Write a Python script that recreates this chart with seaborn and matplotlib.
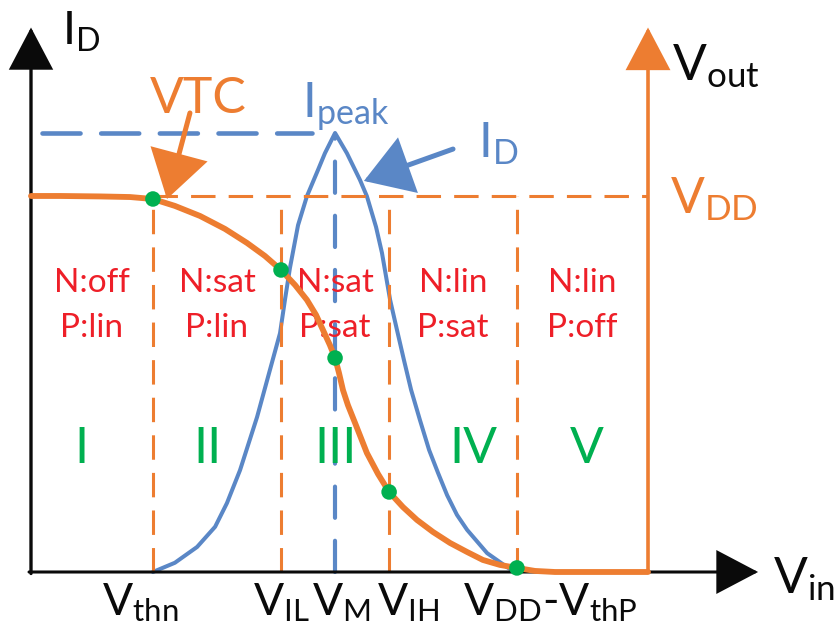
import numpy as np
import pandas as pd
import matplotlib
matplotlib.use("Agg")
import matplotlib.pyplot as plt
import seaborn as sns

# ---- supply and characteristic input voltages (V) ----
VDD = 2.5
v_thn = 0.494
v_il = 1.013
v_m = 1.232
v_ih = 1.451
v_dd_thp = 1.969

# ---- CMOS inverter voltage transfer characteristic ----
vtc_vin = [0.000, 0.118, 0.280, 0.401, 0.494, 0.583, 0.685, 0.786, 0.875, 0.948,
           1.013, 1.070, 1.118, 1.155, 1.183, 1.211, 1.232, 1.248, 1.264, 1.284,
           1.313, 1.337, 1.361, 1.406, 1.451, 1.507, 1.564, 1.629, 1.698, 1.767,
           1.831, 1.900, 1.969, 2.042, 2.123, 2.500]
vtc_vout = [2.500, 2.500, 2.497, 2.493, 2.480, 2.434, 2.367, 2.281, 2.188, 2.101,
            2.008, 1.908, 1.809, 1.709, 1.609, 1.509, 1.423, 1.323, 1.210, 1.110,
            0.991, 0.891, 0.791, 0.652, 0.532, 0.432, 0.346, 0.266, 0.193, 0.133,
            0.080, 0.047, 0.027, 0.007, 0.000, 0.000]

# ---- drain current through the inverter, normalised to I_peak ----
id_vin = [0.494, 0.583, 0.673, 0.746, 0.794, 0.847, 0.916, 0.968, 1.009, 1.029,
          1.049, 1.082, 1.118, 1.163, 1.191, 1.232, 1.280, 1.333, 1.361, 1.398,
          1.422, 1.455, 1.483, 1.511, 1.540, 1.576, 1.613, 1.649, 1.686, 1.726,
          1.767, 1.848, 1.929, 1.961]
id_norm = [0.000, 0.021, 0.057, 0.103, 0.157, 0.232, 0.353, 0.460, 0.544, 0.620,
           0.692, 0.790, 0.856, 0.916, 0.954, 1.000, 0.954, 0.893, 0.856, 0.786,
           0.727, 0.620, 0.551, 0.483, 0.415, 0.346, 0.278, 0.226, 0.175, 0.130,
           0.096, 0.043, 0.011, 0.000]

# ---- marked operating points on the VTC ----
pt_vin = [v_thn, v_il, v_m, v_ih, v_dd_thp]
pt_vout = [2.480, 2.008, 1.423, 0.532, 0.027]

# ---- operating regions ----
region_bounds = [0.0, v_thn, v_il, v_ih, v_dd_thp, VDD]
region_numerals = ["I", "II", "III", "IV", "V"]
region_numeral_x = [0.203, 0.717, 1.236, 1.791, 2.253]
n_states = ["off", "sat", "sat", "lin", "lin"]
p_states = ["lin", "lin", "sat", "sat", "off"]

# ---- input-axis labels ----
tick_labels = [r"$V_{thn}$", r"$V_{IL}$", r"$V_{M}$", r"$V_{IH}$", r"$V_{DD}$-$V_{thP}$"]
tick_label_x = [0.288, 0.900, 1.139, 1.402, 1.750]

ORANGE = "#ED7D31"
BLUE = "#5A87C6"
GREEN = "#00B050"
RED = "#EE1F28"
BLACK = "#0A0A0A"

sns.set_theme(style="white")
plt.rcParams["font.family"] = ["Lato", "DejaVu Sans"]
plt.rcParams["mathtext.fontset"] = "custom"
plt.rcParams["mathtext.rm"] = "Lato"
plt.rcParams["mathtext.it"] = "Lato"
plt.rcParams["mathtext.default"] = "regular"

fig = plt.figure(figsize=(8.34, 6.33), dpi=100)
ax = fig.add_axes([0, 0, 1, 1])
ax.set_xlim(-0.1256, 3.2536)
ax.set_ylim(-0.4056, 3.803)
ax.axis("off")

# current lives on its own scale, drawn underneath the voltage layer
ax_i = ax.twinx()
ax_i.set_ylim(-0.139, 1.303)
ax_i.axis("off")
ax.set_zorder(ax_i.get_zorder() + 1)
ax.patch.set_visible(False)

# ---- drain current curve and its peak markers ----
id_df = pd.DataFrame({"vin": id_vin, "id": id_norm})
sns.lineplot(data=id_df, x="vin", y="id", ax=ax_i, color=BLUE, lw=2.9,
             sort=False, estimator=None)
i_peak = max(id_norm)
ax_i.plot([0.045, 1.14], [i_peak, i_peak], color=BLUE, lw=3.3,
          ls=(0, (8.3, 4.5)), solid_capstyle="round", dash_capstyle="round")
ax_i.plot([v_m, v_m], [0.0, 0.99 * i_peak], color=BLUE, lw=3.0,
          ls=(0, (7.5, 5.5)), dash_capstyle="round")

# ---- region boundaries and the VDD level ----
dash_o = (0, (8.0, 4.3))
for xb in [v_thn, v_il, v_ih, v_dd_thp]:
    ax.plot([xb, xb], [0.0, VDD], color=ORANGE, lw=2.2, ls=dash_o, zorder=2)
ax.plot([v_thn, VDD], [VDD, VDD], color=ORANGE, lw=2.2, ls=dash_o, zorder=2)

# ---- axes with arrow heads ----
def axis_arrow(x0, y0, x1, y1, color, lw):
    ax.annotate("", xy=(x1, y1), xytext=(x0, y0),
                arrowprops=dict(arrowstyle="-|>,head_length=0.95,head_width=0.5",
                                mutation_scale=28, color=color, lw=lw,
                                shrinkA=0, shrinkB=0, joinstyle="miter"),
                zorder=3)

axis_arrow(0.0, -0.01, 0.0, 3.62, BLACK, 2.4)
axis_arrow(-0.008, 0.0, 2.946, 0.0, BLACK, 2.2)
axis_arrow(VDD, 0.0, VDD, 3.62, ORANGE, 2.6)

# ---- VTC curve and marked points ----
vtc_df = pd.DataFrame({"vin": vtc_vin, "vout": vtc_vout})
sns.lineplot(data=vtc_df, x="vin", y="vout", ax=ax, color=ORANGE, lw=4.2,
             sort=False, estimator=None, zorder=5)
sns.scatterplot(x=pt_vin, y=pt_vout, ax=ax, color=GREEN, s=125,
                edgecolor="none", zorder=6)

# ---- region annotations ----
for i in range(5):
    xc = 0.5 * (region_bounds[i] + region_bounds[i + 1])
    ax.text(xc, 1.862, f"N:{n_states[i]}", color=RED, fontsize=24,
            ha="center", va="baseline", zorder=4)
    ax.text(xc, 1.5625, f"P:{p_states[i]}", color=RED, fontsize=24,
            ha="center", va="baseline", zorder=4)
    ax.text(region_numeral_x[i], 0.725, region_numerals[i], color=GREEN,
            fontsize=36, ha="center", va="baseline", zorder=4)

# ---- input axis labels ----
for xl, lab in zip(tick_label_x, tick_labels):
    ax.text(xl, -0.286, lab, fontsize=32, color=BLACK, ha="left", va="baseline")

# ---- axis titles and curve callouts ----
ax.text(3.006, -0.14, r"$V_{in}$", fontsize=36, color=BLACK, va="baseline")
ax.text(0.126, 3.504, r"$I_{D}$", fontsize=33, color=BLACK, va="baseline")
ax.text(2.597, 3.271, r"$V_{out}$", fontsize=36, color=BLACK, va="baseline")
ax.text(2.589, 2.387, r"$V_{DD}$", fontsize=36, color=ORANGE, va="baseline")
ax.text(0.482, 3.052, "VTC", fontsize=36, color=ORANGE, va="baseline")
ax.text(1.098, 3.019, r"$I_{peak}$", fontsize=35, color=BLUE, va="baseline")
ax.text(1.811, 2.759, r"$I_{D}$", fontsize=35, color=BLUE, va="baseline")

ax.annotate("", xy=(0.551, 2.48), xytext=(0.644, 3.052),
            arrowprops=dict(arrowstyle="-|>,head_length=0.95,head_width=0.6",
                            mutation_scale=30, color=ORANGE, lw=3.6,
                            shrinkA=0, shrinkB=0, joinstyle="miter"),
            zorder=7)
ax.annotate("", xy=(1.349, 2.600), xytext=(1.710, 2.812),
            arrowprops=dict(arrowstyle="-|>,head_length=0.95,head_width=0.6",
                            mutation_scale=30, color=BLUE, lw=3.6,
                            shrinkA=0, shrinkB=0, joinstyle="miter"),
            zorder=7)

fig.savefig("out.png", dpi=100, facecolor="white")
